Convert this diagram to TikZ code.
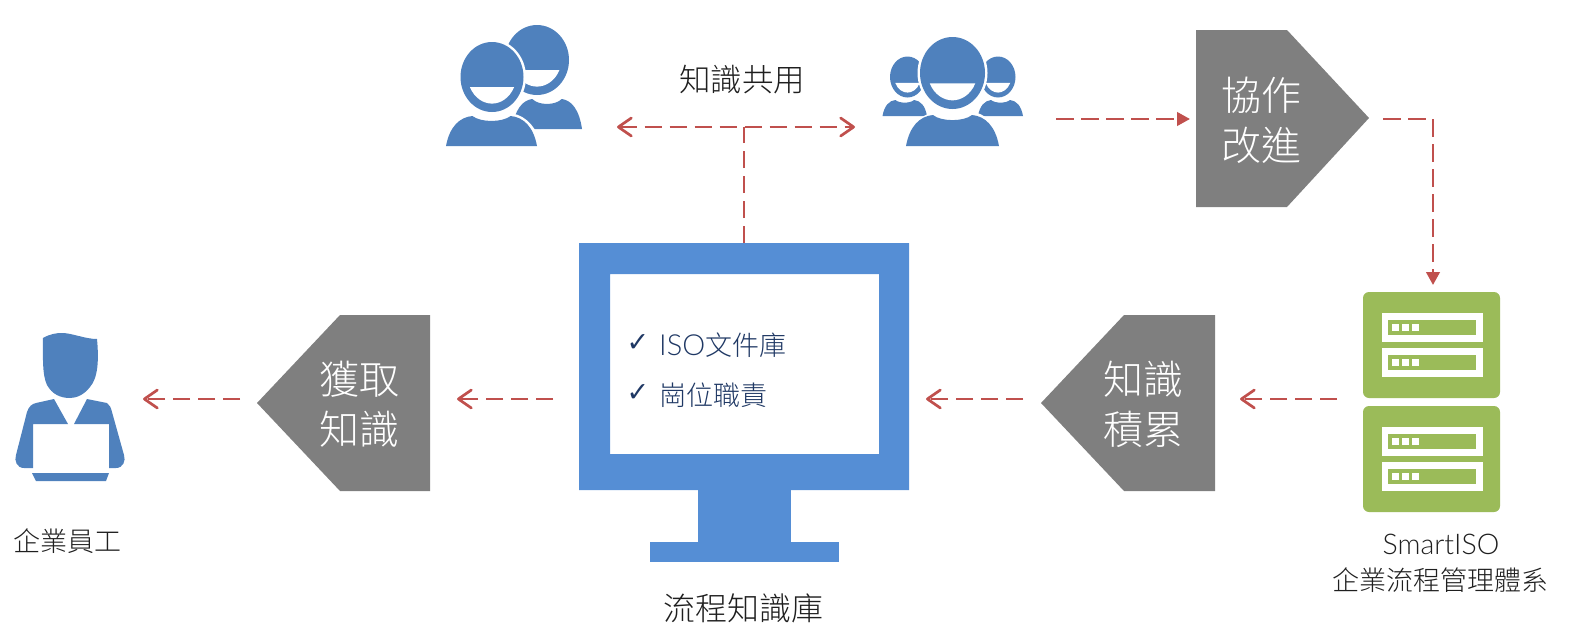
\documentclass[tikz,border=0pt]{standalone}
\usepackage{fontspec}
\usetikzlibrary{arrows.meta,calc}
\setmainfont{Noto Sans CJK TC Light}
\newfontfamily\latinfont{Lato Light}
\newfontfamily\symfont{DejaVu Sans}
\definecolor{peopleblue}{HTML}{4F81BD}
\definecolor{screenblue}{HTML}{558ED5}
\definecolor{srvgreen}{HTML}{9BBB59}
\definecolor{tagray}{HTML}{7F7F7F}
\definecolor{connred}{HTML}{C0504D}
\definecolor{listnavy}{HTML}{1F3864}
\definecolor{inkdark}{HTML}{1F1F1F}
\newcommand{\fsz}[1]{\fontsize{#1pt}{#1pt}\selectfont}
\newcommand{\personshape}[8]{%
 \path[peoplefill] (#1,#2) ellipse [x radius=#3,y radius=#4];
 \path[smilefill] ({#1-0.70*#3},{#2+0.29*#4}) -- ({#1+0.70*#3},{#2+0.29*#4})
   .. controls ({#1+0.55*#3},{#2+0.62*#4}) and ({#1+0.25*#3},{#2+0.76*#4}) .. (#1,{#2+0.76*#4})
   .. controls ({#1-0.25*#3},{#2+0.76*#4}) and ({#1-0.55*#3},{#2+0.62*#4}) .. cycle;
 \path[peoplefill] (#5,#8) .. controls ({#5+0.04*(#6-#5)},{#7+0.35*(#8-#7)}) and ({#5+0.15*(#6-#5)},{#7+0.04*(#8-#7)}) .. ({#5+0.29*(#6-#5)},#7)
   .. controls ({#5+0.38*(#6-#5)},{#7+0.22*(#8-#7)}) and ({#5+0.62*(#6-#5)},{#7+0.22*(#8-#7)}) .. ({#5+0.71*(#6-#5)},#7)
   .. controls ({#5+0.85*(#6-#5)},{#7+0.04*(#8-#7)}) and ({#5+0.96*(#6-#5)},{#7+0.35*(#8-#7)}) .. (#6,#8) -- cycle;
}
\newcommand{\serverunit}[1]{%
 \path[fill=srvgreen,rounded corners=6] (1363,#1) rectangle (1500,{#1+106});
 \foreach \dy in {0,35}{
  \path[fill=white] (1382,{#1+21+\dy}) rectangle (1483,{#1+50+\dy});
  \path[fill=srvgreen] (1388,{#1+28+\dy}) rectangle (1476,{#1+43+\dy});
  \foreach \dx in {1392,1402,1412}{
   \path[fill=white] (\dx,{#1+32+\dy}) rectangle ({\dx+6.5},{#1+39+\dy});
  }
 }
}
\tikzset{
 x=1pt,y=-1pt,
 peoplefill/.style={fill=peopleblue},
 smilefill/.style={fill=white},
 halo/.style={fill=white,draw=white,line width=5pt},
 tagfill/.style={fill=tagray},
 zone/.style={inner sep=0pt,outer sep=0pt,draw=none},
 tagtext/.style={inner sep=0pt,text=white,align=center,font=\fsz{40}},
 caption/.style={inner sep=0pt,text=inkdark,align=center},
 conn/.style={draw=connred,line width=2.7pt,dash pattern=on 17.5pt off 7.5pt},
 barb/.tip={Straight Barb[length=13pt,width=18pt,line width=2.7pt,round]},
 openhead/.style={-barb},
 bothheads/.style={barb-barb},
 fillhead/.style={-{Triangle[length=13pt,width=13.5pt,fill=connred]}},
}
\begin{document}
\begin{tikzpicture}
\useasboundingbox (0,0) rectangle (1569,643);
% invisible zones that carry the names
\node[zone,minimum width=108pt,minimum height=148pt,anchor=north west] (staff) at (16,333) {};
\node[zone,minimum width=173pt,minimum height=176pt,anchor=north west] (gainbox) at (257,315) {};
\node[zone,minimum width=330pt,minimum height=319pt,anchor=north west] (screen) at (579,243) {};
\node[zone,minimum width=174pt,minimum height=176pt,anchor=north west] (accubox) at (1041,315) {};
\node[zone,minimum width=137pt,minimum height=220pt,anchor=north west] (servers) at (1363,292) {};
\node[zone,minimum width=173pt,minimum height=178pt,anchor=north west] (collabbox) at (1196,30) {};
\node[zone,minimum width=136pt,minimum height=121pt,anchor=north west] (groupa) at (446,25) {};
\node[zone,minimum width=141pt,minimum height=110pt,anchor=north west] (groupb) at (882,37) {};
\coordinate (rowline) at (0,399);
\coordinate (shareline) at (744,127);

% people left
\personshape{537}{60}{32}{35}{512}{582}{99}{129}
\path[halo] (446,146) .. controls (450,130) and (460,118) .. (473,116)
  .. controls (483,122) and (502,122) .. (512,116)
  .. controls (525,118) and (535,130) .. (539,146) -- cycle;
\path[halo] (492,77) ellipse [x radius=31.5,y radius=35];
\personshape{492}{77}{31.5}{35}{446}{537}{116}{146}
% people right
\personshape{907.5}{77}{17.5}{20.5}{882.5}{927}{100}{116}
\personshape{998}{77}{17.5}{20.5}{978}{1023}{100}{116}
\path[halo] (906,146) .. controls (910,130) and (920,118) .. (933,115)
  .. controls (943,121) and (965,121) .. (975,115)
  .. controls (988,118) and (995,130) .. (999,146) -- cycle;
\path[halo] (952.5,73) ellipse [x radius=32.5,y radius=36];
\personshape{952.5}{73}{32.5}{36}{906}{999}{115}{146}

% employee
\path[peoplefill] (43,338) .. controls (50,334) and (56,333) .. (62,333)
  .. controls (72,333) and (85,339) .. (97,339)
  .. controls (99,360) and (98,378) .. (90,387)
  .. controls (84,395) and (76,398) .. (70,398)
  .. controls (60,398) and (52,394) .. (47,385)
  .. controls (42,375) and (43,355) .. (43,338) -- cycle;
\path[peoplefill] (54,399) -- (68,424) -- (33,424) -- (33,468) -- (24,468)
  .. controls (17,468) and (14,461) .. (16,455)
  -- (27,412) .. controls (29,406) and (32,404) .. (36,403) -- cycle;
\path[peoplefill] (87,399) -- (74,424) -- (109,424) -- (109,468) -- (116,468)
  .. controls (123,468) and (126,461) .. (124,455)
  -- (112,412) .. controls (111,408) and (110,405) .. (107,403) -- cycle;
\path[peoplefill] (32,473) -- (109,473) -- (106,481) -- (36,481) -- cycle;

% tags
\path[tagfill] (1196,30) -- (1287,30) -- (1369,118) -- (1287,207) -- (1196,207) -- cycle;
\path[tagfill] (430,315) -- (340,315) -- (257,403) -- (340,491) -- (430,491) -- cycle;
\path[tagfill] (1215,315) -- (1124,315) -- (1041,403) -- (1124,491) -- (1215,491) -- cycle;
\node[tagtext] (collab1) at (1261.5,95) {協作};
\node[tagtext] (collab2) at (1261.5,145) {改進};
\node[tagtext] (gain1) at (359.5,379) {獲取};
\node[tagtext] (gain2) at (359.5,429) {知識};
\node[tagtext] (accu1) at (1143.5,379) {知識};
\node[tagtext] (accu2) at (1143.5,429) {積累};

% monitor
\path[fill=screenblue,even odd rule] (579,243) rectangle (909,490) (610,274) rectangle (879,454);
\path[fill=screenblue] (698,490) rectangle (791,543);
\path[fill=screenblue] (650,542) rectangle (839,562);
\node[inner sep=0pt,text=listnavy,font=\symfont\fsz{27}] (tick1) at (638,343) {✓};
\node[inner sep=0pt,text=listnavy,font=\symfont\fsz{27}] (tick2) at (638,393) {✓};
\node[inner sep=0pt,text=listnavy,anchor=west,font=\fsz{27}] (item1) at (659,345) {{\latinfont\fsz{29}ISO}文件庫};
\node[inner sep=0pt,text=listnavy,anchor=west,font=\fsz{27}] (item2) at (659,395) {崗位職責};

% servers
\serverunit{292}
\serverunit{406}

% captions
\node[caption,font=\fsz{31.5}] (sharecap) at (742,80) {知識共用};
\node[caption,font=\fsz{27}] (staffcap) at (67,541) {企業員工};
\node[caption,font=\fsz{32}] (screencap) at (743.5,608) {流程知識庫};
\node[caption,font=\latinfont\fsz{28.5}] (srvcap1) at (1441,544) {SmartISO};
\node[caption,font=\fsz{27}] (srvcap2) at (1440.5,580) {企業流程管理體系};

% connectors
\draw[conn,openhead,shorten <=17pt,shorten >=19pt] (gainbox.west |- rowline) -- (staff.east |- rowline);
\draw[conn,openhead,shorten <=26pt,shorten >=27pt] (screen.west |- rowline) -- (gainbox.east |- rowline);
\draw[conn,openhead,shorten <=18pt,shorten >=17pt] (accubox.west |- rowline) -- (screen.east |- rowline);
\draw[conn,openhead,shorten <=26pt,shorten >=25pt] (servers.west |- rowline) -- (accubox.east |- rowline);
\draw[conn,fillhead,shorten <=33pt,shorten >=6pt] (groupb.east |- collabbox.west) -- (collabbox.west);
\draw[conn,fillhead,shorten <=14pt,shorten >=7pt] (collabbox.east) -| ([xshift=1.5pt]servers.north);
\draw[conn,bothheads,shorten <=35pt,shorten >=27pt] (groupa.east |- shareline) -- (groupb.west |- shareline);
\draw[conn] (screen.north -| shareline) -- (shareline);
\end{tikzpicture}
\end{document}
